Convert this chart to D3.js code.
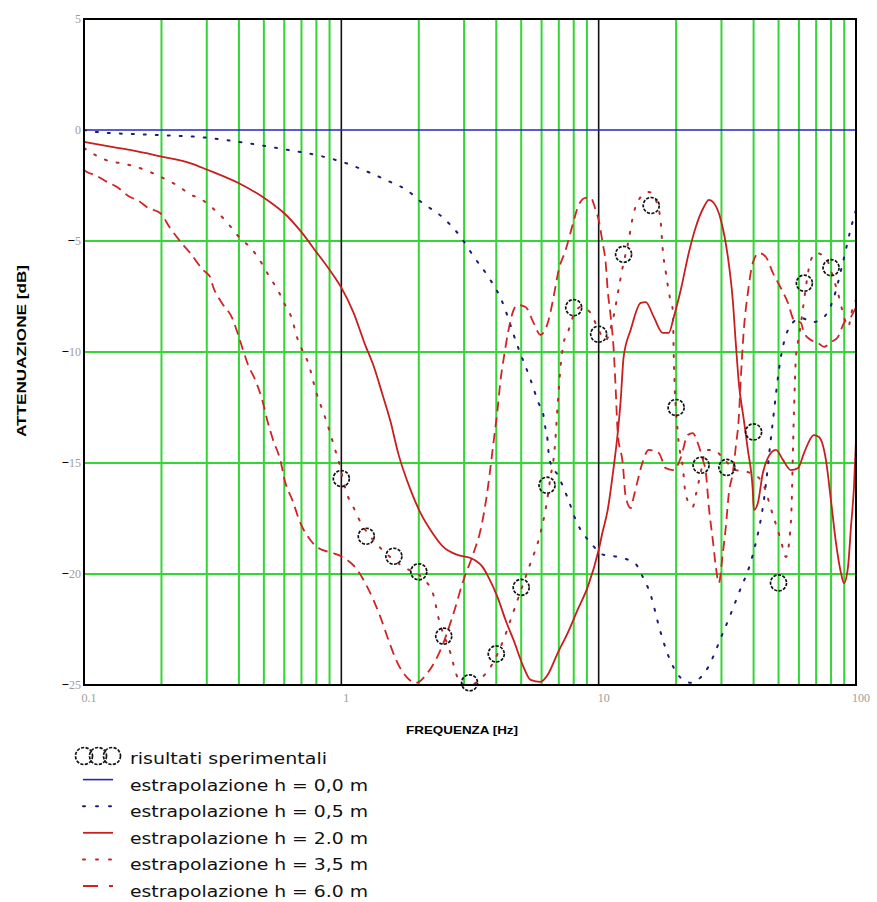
<!DOCTYPE html>
<html>
<head>
<meta charset="utf-8">
<script src="https://cdn.jsdelivr.net/npm/d3@7"></script>
<style>
  body { margin: 0; background: #fff; }
  svg { display: block; }
</style>
</head>
<body>
<div id="chart"></div>
<script>
// tick values
const freqTicks = [0.1, 1, 10, 100];
const dbTicks = [5, 0, -5, -10, -15, -20, -25];
const minorFreqs = [0.2, 0.3, 0.4, 0.5, 0.6, 0.7, 0.8, 0.9,
                    2, 3, 4, 5, 6, 7, 8, 9,
                    20, 30, 40, 50, 60, 70, 80, 90];
const decadeFreqs = [1, 10];
const dbGrid = [-5, -10, -15, -20];

// experimental points (third octave bands)
const expFreq = [1, 1.25, 1.6, 2, 2.5, 3.15, 4, 5, 6.3, 8, 10, 12.5, 16, 20, 25, 31.5, 40, 50, 63, 80];
const expDb = [-15.7, -18.3, -19.2, -19.9, -22.8, -24.9, -23.6, -20.6, -16.0, -8.0,
               -9.2, -5.6, -3.4, -12.5, -15.1, -15.2, -13.6, -20.4, -6.9, -6.2];

// extrapolated curves [Hz, dB]
const h00 = [[0.1, 0], [100, 0]];

const h05 = [[0.1, 0], [0.112, -0.09], [0.198, -0.23], [0.283, -0.32], [0.43, -0.59], [0.595, -0.86],
  [0.83, -1.17], [1.04, -1.49], [1.3, -1.94], [1.55, -2.34], [1.77, -2.66], [2.07, -3.29], [2.49, -3.96],
  [2.91, -4.82], [3.26, -5.68], [3.73, -6.62], [4.16, -7.57], [4.84, -9.73], [5.44, -11.26], [5.84, -12.3],
  [6.1, -12.84], [6.2, -13.38], [6.33, -13.96], [6.39, -14.55], [6.5, -15.0], [6.93, -15.54], [7.58, -16.58],
  [8.21, -17.66], [9.31, -18.6], [10.46, -19.14], [11.86, -19.23], [13.93, -19.55], [14.57, -19.95],
  [15.93, -20.95], [17.3, -22.52], [18.4, -23.5], [20.84, -24.68], [22.8, -24.9], [24.27, -24.77],
  [26.08, -24.37], [30.38, -22.66], [35.05, -20.86], [39.7, -19.14], [43.85, -16.67], [47.1, -13.51],
  [51.05, -10.23], [55.85, -8.78], [61.1, -8.47], [68, -8.65], [74.4, -8.47], [81.4, -7.66], [89, -5.95],
  [95.6, -4.41], [100, -3.6]];

const h20 = [[0.1, -0.54], [0.13, -0.77], [0.151, -0.9], [0.2, -1.2], [0.26, -1.5], [0.3, -1.78],
  [0.4, -2.4], [0.5, -3.05], [0.6, -3.75], [0.7, -4.6], [0.8, -5.5], [0.9, -6.3], [1.0, -7.1],
  [1.113, -8.2], [1.24, -9.7], [1.332, -10.6], [1.444, -11.9], [1.55, -13.1], [1.667, -14.6],
  [1.856, -16.2], [2.03, -17.25], [2.26, -18.15], [2.49, -18.78], [2.825, -19.14],
  [3.18, -19.28], [3.537, -19.68], [3.73, -20.14], [4.045, -21.04], [4.345, -22.07], [4.668, -22.97],
  [5.106, -24.19], [5.438, -24.77], [5.943, -24.86], [6.33, -24.55], [6.93, -23.56], [7.575, -22.66],
  [8.28, -21.62], [9.06, -20.59], [10, -18.92], [10.36, -18.1], [10.84, -17.12], [11.44, -15.18],
  [11.86, -13.65], [12.18, -12.16], [12.5, -10.23], [13.32, -9.0], [14.57, -7.79], [15.24, -7.75],
  [16.37, -8.42], [17.75, -9.14], [18.72, -9.14], [19.59, -8.42], [20.84, -7.21], [22.39, -5.54],
  [23.85, -4.37], [25.63, -3.47], [26.8, -3.15], [28.03, -3.29], [29.84, -4.05], [31.78, -5.72],
  [33.2, -7.66], [34.1, -9.59], [35.05, -11.4], [36.65, -13.06], [38.0, -14.41], [39.7, -16.22],
  [40.1, -17.12], [41.56, -16.8], [43.45, -15.45], [45.45, -14.77], [48.85, -14.41], [52.0, -14.86],
  [55.85, -15.32], [59.5, -15.23], [62.8, -14.55], [68.6, -13.74], [71.8, -13.83], [76.4, -14.86],
  [79.9, -16.67], [83.6, -18.6], [87.4, -19.95], [89.8, -20.41], [93.1, -19.68], [95.6, -17.88],
  [98.2, -16.08], [100, -13.96]];

const h35 = [[0.1, -0.81], [0.1124, -1.17], [0.1251, -1.4], [0.138, -1.49], [0.155, -1.62], [0.21, -2.25],
  [0.236, -2.57], [0.256, -2.88], [0.285, -3.11], [0.309, -3.42], [0.367, -4.28], [0.394, -4.73],
  [0.455, -5.45], [0.484, -5.9], [0.515, -6.44], [0.574, -7.34], [0.605, -7.88], [0.639, -8.42],
  [0.68, -9.5], [0.711, -10.0], [0.744, -10.5], [0.792, -11.67], [0.882, -13.24], [0.939, -14.28],
  [0.973, -14.86], [1.055, -16.44], [1.113, -16.98], [1.165, -17.48], [1.406, -18.78], [1.697, -19.59],
  [2.16, -20.41], [2.28, -20.95], [2.385, -21.98], [2.655, -23.56], [2.825, -24.64], [3.038, -25.0],
  [3.264, -24.95], [3.537, -24.64], [3.8, -24.19], [4.266, -22.97], [4.547, -22.07], [4.84, -21.17],
  [5.438, -19.5], [5.84, -18.47], [6.28, -16.8], [6.5, -15.63], [6.74, -14.41], [6.93, -12.39],
  [7.11, -10.68], [7.31, -9.59], [7.575, -9.14], [8.0, -8.33], [8.51, -7.97], [9.31, -8.24], [9.91, -8.92],
  [10.65, -9.46], [11.34, -8.56], [12.07, -6.89], [12.29, -6.4], [13.08, -4.95], [13.68, -3.74],
  [14.57, -3.02], [15.65, -2.79], [16.67, -3.15], [17.42, -4.14], [17.75, -5.41], [18.23, -6.4],
  [18.89, -7.52], [19.41, -8.11], [19.59, -10.27], [20.3, -13.65], [21.23, -15.18], [21.8, -16.44],
  [23.2, -16.98], [23.85, -16.44], [24.94, -15.41], [26.08, -14.41], [28.03, -14.41], [30.38, -14.77],
  [34.1, -15.32], [38.0, -15.41], [42.7, -15.77], [47.54, -17.34], [51.05, -18.47], [53.4, -19.23],
  [55.85, -17.66], [57.4, -12.7], [58.43, -10.23], [60.0, -9.32], [61.1, -8.69], [66.8, -5.86],
  [69.9, -5.54], [76.4, -5.77], [82.1, -6.76], [85.9, -7.52], [89.8, -8.42], [93.1, -8.87],
  [97.3, -7.97], [100, -7.66]];

const h60 = [[0.1, -1.8], [0.1027, -1.89], [0.1104, -2.03], [0.1229, -2.34], [0.1344, -2.57], [0.151, -3.02],
  [0.1608, -3.15], [0.1775, -3.51], [0.1976, -3.74], [0.216, -4.41], [0.243, -5.18], [0.2585, -5.54],
  [0.2904, -6.31], [0.309, -6.62], [0.3177, -7.07], [0.332, -7.52], [0.3475, -7.88], [0.3766, -8.47],
  [0.394, -9.1], [0.415, -9.91], [0.4345, -10.59], [0.4628, -11.26], [0.4927, -12.16], [0.515, -13.06],
  [0.543, -13.96], [0.579, -14.86], [0.605, -15.86], [0.645, -16.67], [0.693, -17.7], [0.758, -18.47],
  [0.814, -18.83], [0.9226, -19.05], [1.009, -19.23], [1.154, -19.82], [1.262, -20.59], [1.419, -21.94],
  [1.524, -22.97], [1.652, -24.0], [1.806, -24.68], [1.941, -24.91], [2.16, -24.46], [2.43, -23.42],
  [2.7, -21.94], [2.985, -20.27], [3.264, -19.05], [3.475, -18.02], [3.7, -16.22], [3.8, -15.18],
  [3.9, -14.1], [4.045, -12.61], [4.157, -11.26], [4.266, -10.36], [4.466, -9.0], [4.668, -8.11],
  [4.84, -7.88], [5.2, -7.97], [5.585, -8.69], [5.943, -9.23], [6.39, -8.56], [6.68, -7.52], [6.99, -6.31],
  [7.44, -5.41], [7.92, -4.28], [8.36, -3.38], [8.9, -3.06], [9.31, -3.06], [9.73, -3.6], [10, -4.05],
  [10.36, -5.09], [10.65, -5.99], [10.84, -7.21], [11.14, -8.42], [11.44, -9.91], [11.65, -11.71],
  [11.86, -13.65], [12.4, -15.0], [12.74, -16.53], [13.32, -17.03], [13.68, -16.53], [14.19, -15.77],
  [14.83, -14.95], [15.65, -14.41], [17.12, -14.55], [18.23, -15.23], [19.59, -15.32], [20.84, -14.77],
  [22.19, -13.74], [23.2, -13.65], [24.27, -14.1], [25.4, -14.86], [26.08, -15.41], [26.8, -16.98],
  [27.77, -18.47], [28.54, -19.68], [29.3, -20.41], [30.38, -19.05], [31.2, -17.88], [32.06, -16.35],
  [33.2, -15.45], [34.1, -14.28], [35.05, -12.93], [35.7, -11.13], [36.65, -9.0], [38.0, -7.34],
  [39.7, -5.99], [41.94, -5.54], [44.65, -5.72], [47.54, -6.44], [51.05, -7.12], [54.4, -7.79],
  [57.4, -8.56], [61.1, -8.69], [62.8, -9.14], [66.8, -9.46], [71.1, -9.59], [75.1, -9.77], [79.9, -9.55],
  [85.1, -9.32], [89.8, -8.69], [95.6, -8.42], [100, -7.97]];

const legendLabels = ["risultati sperimentali",
  "estrapolazione h = 0,0 m", "estrapolazione h = 0,5 m", "estrapolazione h = 2.0 m",
  "estrapolazione h = 3,5 m", "estrapolazione h = 6.0 m"];

const series = [
  {data: h00, color: "#2424c4", width: 1.6, dash: null},
  {data: h05, color: "#1c1c78", width: 2, dash: "2 10"},
  {data: h20, color: "#c81e1e", width: 1.8, dash: null},
  {data: h35, color: "#b52a2a", width: 2, dash: "2 10"},
  {data: h60, color: "#d02424", width: 1.8, dash: "10 6"}
];

const svgWidth = 877, svgHeight = 902;
const margin = {top: 19, right: 21, bottom: 217, left: 84};
const chartWidth = svgWidth - margin.left - margin.right;
const chartHeight = svgHeight - margin.top - margin.bottom;

const svg = d3.select("#chart").append("svg")
  .attr("width", svgWidth)
  .attr("height", svgHeight);

const chartGroup = svg.append("g").attr("transform", `translate(${margin.left}, ${margin.top})`);

const xScale = d3.scaleLog().domain([0.1, 100]).range([0, chartWidth]);
const yScale = d3.scaleLinear().domain([-25, 5]).range([chartHeight, 0]);

svg.append("defs").append("clipPath").attr("id", "plotclip")
  .append("rect").attr("width", chartWidth).attr("height", chartHeight);

// green grid
const gridColor = "#35d535";
chartGroup.selectAll(".vgrid").data(minorFreqs).enter().append("line")
  .attr("x1", d => xScale(d)).attr("x2", d => xScale(d))
  .attr("y1", 0).attr("y2", chartHeight)
  .attr("stroke", gridColor).attr("stroke-width", 2);
chartGroup.selectAll(".hgrid").data(dbGrid).enter().append("line")
  .attr("x1", 0).attr("x2", chartWidth)
  .attr("y1", d => yScale(d)).attr("y2", d => yScale(d))
  .attr("stroke", gridColor).attr("stroke-width", 2);
chartGroup.selectAll(".dgrid").data(decadeFreqs).enter().append("line")
  .attr("x1", d => xScale(d)).attr("x2", d => xScale(d))
  .attr("y1", 0).attr("y2", chartHeight)
  .attr("stroke", "#111").attr("stroke-width", 1.6);

// curves
const line = d3.line()
  .x(d => xScale(d[0]))
  .y(d => yScale(d[1]))
  .curve(d3.curveMonotoneX);

const curves = chartGroup.append("g").attr("clip-path", "url(#plotclip)");
series.forEach(s => {
  curves.append("path")
    .datum(s.data)
    .attr("d", line)
    .attr("fill", "none")
    .attr("stroke", s.color)
    .attr("stroke-width", s.width)
    .attr("stroke-linecap", s.dash === "2 10" ? "round" : "butt")
    .attr("stroke-dasharray", s.dash);
});

// experimental points
chartGroup.selectAll(".exp").data(expFreq).enter().append("circle")
  .attr("cx", d => xScale(d))
  .attr("cy", (d, i) => yScale(expDb[i]))
  .attr("r", 8)
  .attr("fill", "none")
  .attr("stroke", "#111")
  .attr("stroke-width", 1.7)
  .attr("stroke-dasharray", "3.2 1.4");

// frame
chartGroup.append("rect")
  .attr("width", chartWidth).attr("height", chartHeight)
  .attr("fill", "none").attr("stroke", "#000").attr("stroke-width", 2);

// axes
const leftAxis = d3.axisLeft(yScale).tickValues(dbTicks).tickSize(0).tickPadding(3);
const yAxisG = chartGroup.append("g").call(leftAxis);
yAxisG.select(".domain").remove();
yAxisG.selectAll("text")
  .attr("font-family", "Liberation Serif, serif")
  .attr("font-size", 12)
  .attr("fill", "#9c9c9c")
  .each(function(d) {
    const t = d3.select(this);
    t.text(null);
    if (d < 0) t.append("tspan").attr("fill", "#000").attr("font-weight", "bold").attr("font-size", 13).text("\u2212");
    t.append("tspan").text(Math.abs(d));
  });

const bottomAxis = d3.axisBottom(xScale).tickValues(freqTicks).tickFormat(d => d).tickSize(0).tickPadding(8);
const xAxisG = chartGroup.append("g")
  .attr("transform", `translate(4.5, ${chartHeight})`)
  .call(bottomAxis);
xAxisG.select(".domain").remove();
xAxisG.selectAll("text")
  .attr("font-family", "Liberation Serif, serif")
  .attr("font-size", 12)
  .attr("fill", "#9c9c9c");

// axis titles
svg.append("text")
  .attr("transform", "rotate(-90)")
  .attr("x", -351)
  .attr("y", 25.5)
  .attr("text-anchor", "middle")
  .attr("font-family", "Liberation Sans, Arial, sans-serif")
  .attr("font-weight", "bold")
  .attr("font-size", 12)
  .attr("textLength", 172)
  .attr("lengthAdjust", "spacingAndGlyphs")
  .text("ATTENUAZIONE [dB]");

svg.append("text")
  .attr("x", 462)
  .attr("y", 734)
  .attr("text-anchor", "middle")
  .attr("font-family", "Liberation Sans, Arial, sans-serif")
  .attr("font-weight", "bold")
  .attr("font-size", 10)
  .attr("textLength", 112)
  .attr("lengthAdjust", "spacingAndGlyphs")
  .text("FREQUENZA [Hz]");

// legend
const legend = svg.append("g");
const rowY = i => 764 + 26.6 * i;
[84, 98, 112].forEach(cx => {
  legend.append("circle")
    .attr("cx", cx).attr("cy", 756).attr("r", 8.5)
    .attr("fill", "none").attr("stroke", "#111").attr("stroke-width", 1.7)
    .attr("stroke-dasharray", "3.2 1.4");
});
series.forEach((s, i) => {
  legend.append("line")
    .attr("x1", 83).attr("x2", 113)
    .attr("y1", rowY(i + 1) - 11).attr("y2", rowY(i + 1) - 11)
    .attr("stroke", s.color)
    .attr("stroke-width", s.width)
    .attr("stroke-linecap", s.dash === "2 10" ? "round" : "butt")
    .attr("stroke-dasharray", s.dash === "2 10" ? "2 11" : s.dash === "10 6" ? "15 11" : null);
});
legend.selectAll(".ltext").data(legendLabels).enter().append("text")
  .attr("x", 130)
  .attr("y", (d, i) => rowY(i))
  .attr("font-family", "DejaVu Sans, sans-serif")
  .attr("font-size", 15)
  .attr("fill", "#111")
  .attr("textLength", (d, i) => i === 0 ? 197 : 238)
  .attr("lengthAdjust", "spacingAndGlyphs")
  .text(d => d);
</script>
</body>
</html>
